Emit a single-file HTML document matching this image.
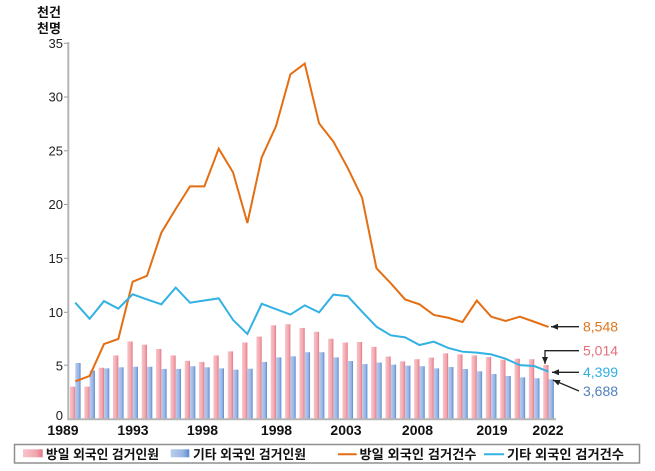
<!DOCTYPE html>
<html>
<head>
<meta charset="utf-8">
<style>
html,body{margin:0;padding:0;background:#fff;}
svg{display:block;}
.kr{font-family:"Liberation Sans","Noto Sans CJK KR",sans-serif;}
</style>
</head>
<body>
<svg width="655" height="471" viewBox="0 0 655 471" xmlns="http://www.w3.org/2000/svg" class="kr">
<defs>
  <linearGradient id="gp" x1="0" y1="0" x2="1" y2="0">
    <stop offset="0" stop-color="#F7C4C9"/>
    <stop offset="0.65" stop-color="#F2A7AF"/>
    <stop offset="1" stop-color="#E07885"/>
  </linearGradient>
  <linearGradient id="gb" x1="0" y1="0" x2="1" y2="0">
    <stop offset="0" stop-color="#B9CDEF"/>
    <stop offset="0.65" stop-color="#99B5E4"/>
    <stop offset="1" stop-color="#5B89CE"/>
  </linearGradient>
  <marker id="ah" markerWidth="8" markerHeight="8" refX="7" refY="4" orient="auto" markerUnits="userSpaceOnUse">
    <path d="M0,1 L7,4 L0,7 Z" fill="#222"/>
  </marker>
</defs>

<!-- unit label -->
<text x="37" y="17" font-size="13" font-weight="bold" fill="#111">천건</text>
<text x="37" y="33" font-size="13" font-weight="bold" fill="#111">천명</text>

<!-- y tick labels -->
<g font-size="13" fill="#222" text-anchor="end" font-family="Liberation Sans, sans-serif">
  <text x="63" y="48">35</text>
  <text x="63" y="101.5">30</text>
  <text x="63" y="155.5">25</text>
  <text x="63" y="209">20</text>
  <text x="63" y="263">15</text>
  <text x="63" y="317">10</text>
  <text x="63" y="370.5">5</text>
  <text x="63" y="420">0</text>
</g>
<g stroke="#999" stroke-width="1">
  <line x1="64" y1="43.3" x2="68" y2="43.3"/>
  <line x1="64" y1="97" x2="68" y2="97"/>
  <line x1="64" y1="150.8" x2="68" y2="150.8"/>
  <line x1="64" y1="204.5" x2="68" y2="204.5"/>
  <line x1="64" y1="258.3" x2="68" y2="258.3"/>
  <line x1="64" y1="312.3" x2="68" y2="312.3"/>
  <line x1="64" y1="365.2" x2="68" y2="365.2"/>
</g>

<!-- bars in data coordinates -->
<g transform="translate(75.3,419) scale(14.34,-10.77)">
  <g fill="url(#gp)">
    <rect x="-0.37" y="0" width="0.37" height="3.0"/>
    <rect x="0.63" y="0" width="0.37" height="3.0"/>
    <rect x="1.63" y="0" width="0.37" height="4.76"/>
    <rect x="2.63" y="0" width="0.37" height="5.9"/>
    <rect x="3.63" y="0" width="0.37" height="7.2"/>
    <rect x="4.63" y="0" width="0.37" height="6.9"/>
    <rect x="5.63" y="0" width="0.37" height="6.5"/>
    <rect x="6.63" y="0" width="0.37" height="5.9"/>
    <rect x="7.63" y="0" width="0.37" height="5.4"/>
    <rect x="8.63" y="0" width="0.37" height="5.3"/>
    <rect x="9.63" y="0" width="0.37" height="5.9"/>
    <rect x="10.63" y="0" width="0.37" height="6.28"/>
    <rect x="11.63" y="0" width="0.37" height="7.1"/>
    <rect x="12.63" y="0" width="0.37" height="7.65"/>
    <rect x="13.63" y="0" width="0.37" height="8.7"/>
    <rect x="14.63" y="0" width="0.37" height="8.8"/>
    <rect x="15.63" y="0" width="0.37" height="8.45"/>
    <rect x="16.63" y="0" width="0.37" height="8.1"/>
    <rect x="17.63" y="0" width="0.37" height="7.45"/>
    <rect x="18.63" y="0" width="0.37" height="7.1"/>
    <rect x="19.63" y="0" width="0.37" height="7.15"/>
    <rect x="20.63" y="0" width="0.37" height="6.7"/>
    <rect x="21.63" y="0" width="0.37" height="5.8"/>
    <rect x="22.63" y="0" width="0.37" height="5.35"/>
    <rect x="23.63" y="0" width="0.37" height="5.55"/>
    <rect x="24.63" y="0" width="0.37" height="5.7"/>
    <rect x="25.63" y="0" width="0.37" height="6.1"/>
    <rect x="26.63" y="0" width="0.37" height="6.0"/>
    <rect x="27.63" y="0" width="0.37" height="5.9"/>
    <rect x="28.63" y="0" width="0.37" height="5.75"/>
    <rect x="29.63" y="0" width="0.37" height="5.5"/>
    <rect x="30.63" y="0" width="0.37" height="5.6"/>
    <rect x="31.63" y="0" width="0.37" height="5.55"/>
    <rect x="32.63" y="0" width="0.37" height="5.014"/>
  </g>
  <g fill="url(#gb)">
    <rect x="0" y="0" width="0.37" height="5.2"/>
    <rect x="1" y="0" width="0.37" height="4.5"/>
    <rect x="2" y="0" width="0.37" height="4.7"/>
    <rect x="3" y="0" width="0.37" height="4.8"/>
    <rect x="4" y="0" width="0.37" height="4.85"/>
    <rect x="5" y="0" width="0.37" height="4.85"/>
    <rect x="6" y="0" width="0.37" height="4.65"/>
    <rect x="7" y="0" width="0.37" height="4.65"/>
    <rect x="8" y="0" width="0.37" height="4.9"/>
    <rect x="9" y="0" width="0.37" height="4.8"/>
    <rect x="10" y="0" width="0.37" height="4.7"/>
    <rect x="11" y="0" width="0.37" height="4.58"/>
    <rect x="12" y="0" width="0.37" height="4.67"/>
    <rect x="13" y="0" width="0.37" height="5.3"/>
    <rect x="14" y="0" width="0.37" height="5.72"/>
    <rect x="15" y="0" width="0.37" height="5.82"/>
    <rect x="16" y="0" width="0.37" height="6.2"/>
    <rect x="17" y="0" width="0.37" height="6.2"/>
    <rect x="18" y="0" width="0.37" height="5.72"/>
    <rect x="19" y="0" width="0.37" height="5.38"/>
    <rect x="20" y="0" width="0.37" height="5.1"/>
    <rect x="21" y="0" width="0.37" height="5.24"/>
    <rect x="22" y="0" width="0.37" height="5.05"/>
    <rect x="23" y="0" width="0.37" height="4.95"/>
    <rect x="24" y="0" width="0.37" height="4.9"/>
    <rect x="25" y="0" width="0.37" height="4.7"/>
    <rect x="26" y="0" width="0.37" height="4.83"/>
    <rect x="27" y="0" width="0.37" height="4.64"/>
    <rect x="28" y="0" width="0.37" height="4.43"/>
    <rect x="29" y="0" width="0.37" height="4.18"/>
    <rect x="30" y="0" width="0.37" height="3.99"/>
    <rect x="31" y="0" width="0.37" height="3.87"/>
    <rect x="32" y="0" width="0.37" height="3.78"/>
    <rect x="33" y="0" width="0.37" height="3.688"/>
  </g>
  <polyline fill="none" stroke="#E46E12" stroke-width="2" vector-effect="non-scaling-stroke" stroke-linejoin="miter"
    points="0,3.5 1,4.0 2,6.96 3,7.43 4,12.75 5,13.3 6,17.3 7,19.5 8,21.6 9,21.6 10,25.1 11,22.9 12,18.2 13,24.3 14,27.2 15,32.0 16,33.0 17,27.45 18,25.75 19,23.3 20,20.55 21,14.0 22,12.6 23,11.1 24,10.65 25,9.66 26,9.4 27,9.0 28,11.0 29,9.5 30,9.1 31,9.5 32,9.03 33,8.548"/>
  <polyline fill="none" stroke="#33B1E3" stroke-width="2" vector-effect="non-scaling-stroke"
    points="0,10.8 1,9.3 2,10.95 3,10.25 4,11.58 5,11.1 6,10.65 7,12.2 8,10.8 9,11.0 10,11.2 11,9.2 12,7.9 13,10.7 14,10.2 15,9.7 16,10.55 17,9.9 18,11.55 19,11.4 20,9.96 21,8.57 22,7.77 23,7.58 24,6.87 25,7.18 26,6.6 27,6.25 28,6.16 29,6.0 30,5.6 31,5.0 32,4.92 33,4.399"/>
</g>

<!-- axes -->
<line x1="68.3" y1="42" x2="68.3" y2="420" stroke="#b5b5b5" stroke-width="2"/>
<line x1="67.3" y1="419.3" x2="556" y2="419.3" stroke="#b5b5b5" stroke-width="2"/>

<!-- x labels -->
<g font-size="14" font-weight="bold" fill="#111" text-anchor="middle" font-family="Liberation Sans, sans-serif">
  <text x="63" y="435">1989</text>
  <text x="133" y="435">1993</text>
  <text x="202.5" y="435">1998</text>
  <text x="276.5" y="435">1998</text>
  <text x="346" y="435">2003</text>
  <text x="417.5" y="435">2008</text>
  <text x="492" y="435">2019</text>
  <text x="548" y="435">2022</text>
</g>

<!-- annotations -->
<g stroke="#222" stroke-width="1.3" fill="none">
  <line x1="579" y1="326.7" x2="551" y2="326.7" marker-end="url(#ah)"/>
  <polyline points="579,350.7 545,350.7 545,364" marker-end="url(#ah)"/>
  <line x1="579" y1="372.3" x2="552" y2="372.3" marker-end="url(#ah)"/>
  <line x1="579" y1="391" x2="553" y2="380" marker-end="url(#ah)"/>
</g>
<g font-size="14" font-family="Liberation Sans, sans-serif">
  <text x="583" y="331.5" fill="#E0761A">8,548</text>
  <text x="583" y="355.5" fill="#E56E7C">5,014</text>
  <text x="583" y="377" fill="#2FAEE2">4,399</text>
  <text x="583" y="396" fill="#4F7FC0">3,688</text>
</g>

<!-- legend -->
<rect x="14.5" y="444.5" width="625" height="18.5" fill="#fff" stroke="#8f8f8f" stroke-width="1.5"/>
<rect x="23" y="449.3" width="19.7" height="8" fill="url(#gp)"/>
<rect x="170.7" y="449.3" width="18.6" height="8" fill="url(#gb)"/>
<line x1="338" y1="454.3" x2="356.7" y2="454.3" stroke="#E46E12" stroke-width="2"/>
<line x1="484" y1="454.3" x2="504" y2="454.3" stroke="#33B1E3" stroke-width="2"/>
<g font-size="13" font-weight="bold" fill="#111">
  <text x="46" y="459" textLength="113" lengthAdjust="spacingAndGlyphs">방일 외국인 검거인원</text>
  <text x="193" y="459" textLength="113" lengthAdjust="spacingAndGlyphs">기타 외국인 검거인원</text>
  <text x="359.5" y="459" textLength="117" lengthAdjust="spacingAndGlyphs">방일 외국인 검거건수</text>
  <text x="507" y="459" textLength="117" lengthAdjust="spacingAndGlyphs">기타 외국인 검거건수</text>
</g>
</svg>
</body>
</html>
